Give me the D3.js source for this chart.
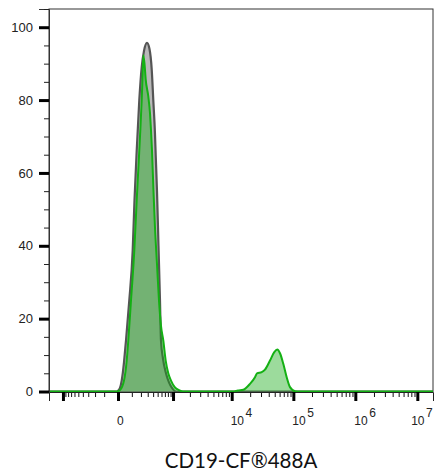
<!DOCTYPE html>
<html>
<head>
<meta charset="utf-8">
<script src="https://cdn.jsdelivr.net/npm/d3@7"></script>
<style>
  html, body { margin: 0; padding: 0; background: #fff; }
  svg { display: block; }
</style>
</head>
<body>
<svg id="chart" width="447" height="476"></svg>
<script>
// ---- data (fluorescence intensity, % of max) ----
const controlX = [-1780, -5.6, 5.6, 11.5, 21.9, 37.1, 44.2, 51.5, 77.6, 108, 125.8, 149.2, 179.4, 210, 242, 288, 330.5, 371.3, 403.1, 439.1, 454.5, 484.4, 520.7, 559, 585.8, 642.4, 735.6, 839.9, 956.4, 1133.4, 17900000];
const controlY = [0, 0, 0.5, 1, 3, 8, 11, 14, 25, 38.7, 52.5, 66, 80, 89, 93.5, 95.7, 94, 88.5, 80, 70.6, 65, 55, 40, 25, 14, 9, 5, 2.5, 1, 0, 0];

const stainedX = [-1780, -5.6, 11.5, 37.1, 56.8, 69.3, 92.3, 123.8, 149.2, 169.8, 188, 210, 220.8, 231.9, 249.3, 267.4, 309.6, 339.5, 358, 377.1, 407.2, 439.1, 484.4, 533.3, 585.8, 651.2, 725.9, 814.5, 916.1, 1086.6, 1284.5, 1514,
  10497, 12669, 15457, 19865, 23944, 25802, 30756, 34790, 41905, 49184, 55000, 60827, 68790, 78070, 88280, 106260, 127980, 17900000];
const stainedY = [0, 0, 0.4, 3, 8.5, 14, 25, 38.7, 52.5, 62, 70, 80, 86, 92.3, 90, 85.7, 81, 76.4, 71.7, 66.2, 55, 45, 35, 25, 18, 14, 8.5, 5, 3, 1.1, 0.4, 0,
  0, 0.3, 0.5, 2.1, 3.9, 5.0, 5.3, 6.0, 8.5, 10.8, 11.5, 10.5, 7.6, 3.9, 1.2, 0.1, 0, 0];

const xMajorTicks = [-1000, 0, 1000, 1e4, 1e5, 1e6, 1e7];
const xLabelTicks = [0, 1e4, 1e5, 1e6, 1e7];
const xLabelTexts = ["0", "10|4", "10|5", "10|6", "10|7"];
const yMajorTicks = [0, 20, 40, 60, 80, 100];
const yMinorTicks = [5, 10, 15, 25, 30, 35, 45, 50, 55, 65, 70, 75, 85, 90, 95, 105];
const xTitle = "CD19-CF®488A";

// minor ticks: k*10^n, and the negative side
const xMinorTicks = [];
for (let k = 1; k <= 9; k++) { xMinorTicks.push(-k * 100); xMinorTicks.push(k * 100); }
[1e3, 1e4, 1e5, 1e6].forEach(b => { for (let k = 2; k <= 9; k++) xMinorTicks.push(k * b); });

// ---- layout ----
const svg = d3.select("#chart");
const L = 49, R = 433, T = 9, B = 391.5;

const x = d3.scaleSymlog().constant(148.8).domain([-1780, 17900000]).range([L, R]);
const y = d3.scaleLinear().domain([0, 105]).range([B, T]);

const controlData = controlX.map((v, i) => [v, controlY[i]]);
const stainedData = stainedX.map((v, i) => [v, stainedY[i]]);

const area = d3.area().x(d => x(d[0])).y0(y(0)).y1(d => y(d[1])).curve(d3.curveMonotoneX);
const line = d3.line().x(d => x(d[0])).y(d => y(d[1])).curve(d3.curveMonotoneX);

// frame
svg.append("rect").attr("x", L).attr("y", T).attr("width", R - L).attr("height", B - T)
  .attr("fill", "none").attr("stroke", "#333").attr("stroke-width", 1);

// control (gray)
svg.append("path").datum(controlData).attr("d", area).attr("fill", "#b9b9b9");
svg.append("path").datum(controlData).attr("d", line).attr("fill", "none")
  .attr("stroke", "#555").attr("stroke-width", 2.2).attr("stroke-linejoin", "round");

// stained (green)
svg.append("path").datum(stainedData).attr("d", area).attr("fill", "rgba(20,170,20,0.42)");
svg.append("path").datum(stainedData).attr("d", line).attr("fill", "none")
  .attr("stroke", "#14b014").attr("stroke-width", 2).attr("stroke-linejoin", "round");

// y axis
const yAxisMajor = d3.axisLeft(y).tickValues(yMajorTicks).tickSize(10).tickPadding(6).tickFormat(d3.format("d"));
const gy = svg.append("g").attr("transform", `translate(${L},0)`).call(yAxisMajor);
gy.select(".domain").attr("stroke", "#333");
gy.selectAll(".tick line").attr("stroke", "#000").attr("stroke-width", 3);
gy.selectAll(".tick text").attr("font-family", "Liberation Sans, Arial, sans-serif").attr("font-size", 13).attr("fill", "#222");
const yAxisMinor = d3.axisLeft(y).tickValues(yMinorTicks).tickSize(5).tickFormat("");
const gym = svg.append("g").attr("transform", `translate(${L},0)`).call(yAxisMinor);
gym.select(".domain").remove();
gym.selectAll(".tick line").attr("stroke", "#222").attr("stroke-width", 1);

// x axis
const xAxisMinor = d3.axisBottom(x).tickValues(xMinorTicks).tickSize(5).tickFormat("");
const gxm = svg.append("g").attr("transform", `translate(0,${B + 0.5})`).call(xAxisMinor);
gxm.select(".domain").remove();
gxm.selectAll(".tick line").attr("stroke", "#111").attr("stroke-width", 1);
const xAxisMajor = d3.axisBottom(x).tickValues(xMajorTicks).tickSize(9).tickFormat("");
const gx = svg.append("g").attr("transform", `translate(0,${B + 0.5})`).call(xAxisMajor);
gx.select(".domain").attr("stroke", "#222");
gx.selectAll(".tick line").attr("stroke", "#000").attr("stroke-width", 3);

// x tick labels (10 with superscript exponent)
xLabelTicks.forEach((v, i) => {
  const parts = xLabelTexts[i].split("|");
  const t = svg.append("text")
    .attr("x", x(v) - 1).attr("y", 425)
    .attr("font-family", "Liberation Sans, Arial, sans-serif").attr("font-size", 12).attr("fill", "#222");
  t.append("tspan").text(parts[0]);
  if (parts[1]) t.append("tspan").attr("dx", 1.5).attr("dy", -8).text(parts[1]);
  const bb = t.node().getBBox();
  if (bb.x + bb.width > R) t.attr("x", x(v) - 1 - (bb.x + bb.width - R));
});

// x title
svg.append("text").attr("x", (L + R) / 2).attr("y", 468).attr("text-anchor", "middle")
  .attr("font-family", "Lato, sans-serif").attr("font-size", 20.5).attr("fill", "#111")
  .text(xTitle);
</script>
</body>
</html>
